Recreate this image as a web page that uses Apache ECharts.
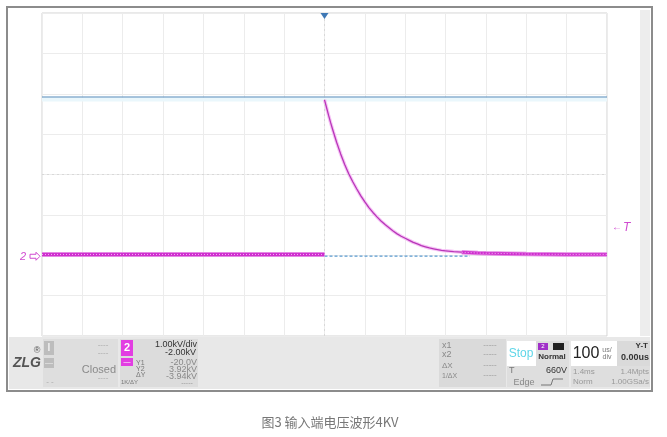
<!DOCTYPE html>
<html><head><meta charset="utf-8">
<script src="https://cdn.jsdelivr.net/npm/echarts@6/dist/echarts.min.js"></script>
<style>html,body{margin:0;padding:0;background:#fff}#c{width:667px;height:437px}</style>
</head><body><div id="c"></div><script>
// time axis in microseconds (100 us/div, 14 div), voltage in kV (1.00 kV/div, offset -2.00 kV)
const xMin = -700, xMax = 700, xStep = 100;
const yMin = -2, yMax = 6, yStep = 1;
// channel 2 before trigger
const preTime = [-700, 0];
const preVolt = [0.02, 0.02];
// channel 2 after trigger
const decayTime = [0,5,10,15,20,25,30,40,50,60,70,80,90,100,110,120,130,140,150,160,170,180,190,200,210,220,230,240,250,260,270,280,290,300,320,340,360,380,400,450,500,550,600,650,700];
const decayVolt = [3.85,3.66,3.47,3.29,3.12,2.96,2.80,2.51,2.25,2.02,1.82,1.64,1.47,1.32,1.18,1.06,0.95,0.85,0.76,0.68,0.60,0.53,0.47,0.42,0.37,0.32,0.28,0.24,0.21,0.18,0.16,0.14,0.12,0.11,0.09,0.075,0.065,0.055,0.05,0.04,0.03,0.025,0.02,0.02,0.02];
// time from which the trace looks like the thick baseline again
const tailStart = 340;
// cursors
const cursorY2 = 3.92;
const cursorY1 = -0.02;
const cursorY1Span = [0, 360];
const cursorY2Span = [-700, 700];
const triggerLevel = 0.66;
const centerTime = 0, centerVolt = 2;

const zip = (a, b) => a.map((v, i) => [v, b[i]]);
const decayData = zip(decayTime, decayVolt);
const tailData = decayData.filter(p => p[0] >= tailStart);
const MAG = '#cf2fcf';
const chart = echarts.init(document.getElementById('c'), null, {renderer: 'canvas'});

const F = 'Liberation Sans, Arial, sans-serif';
function txt(x, y, s, o) {
  o = o || {};
  return {type: 'text', x: x, y: y, z: 20, style: {text: s, fill: o.c || '#8a8a8a', font: o.f || ('9px ' + F), textAlign: o.a || 'left', textVerticalAlign: 'middle'}};
}
function box(x, y, w, h, fill, stroke) {
  return {type: 'rect', z: 10, shape: {x: x, y: y, width: w, height: h}, style: {fill: fill, stroke: stroke || null, lineWidth: 1}};
}

const graphics = [
  {type: 'rect', z: 1, shape: {x: 7, y: 7, width: 645, height: 384}, style: {fill: 'none', stroke: '#8c8c8c', lineWidth: 2}},
  box(640, 10, 10, 326, '#ededed'),
  box(9, 337, 641, 52, '#e8e8e8'),
  box(43, 339, 75, 48, '#dedede'),
  box(120, 339, 78, 48, '#dcdcdc'),
  box(439, 339, 67, 48, '#dadada'),
  box(507, 341, 29, 25, '#ffffff'),
  box(536, 341, 33, 25, '#dedede'),
  box(507, 366, 62, 21, '#dedede'),
  box(571, 341, 46, 25, '#ffffff'),
  box(617, 341, 33, 25, '#dadada'),
  box(571, 366, 79, 21, '#dedede'),
  box(44, 341, 10, 14, '#bdbdbd'),
  txt(49, 348, 'I', {c: '#f0f0f0', f: 'bold 10px ' + F, a: 'center'}),
  box(44, 358, 10, 10, '#bdbdbd'),
  txt(49, 363, '—', {c: '#f0f0f0', f: '8px ' + F, a: 'center'}),
  txt(103, 345, '----', {c: '#aaa', f: '8px ' + F, a: 'center'}),
  txt(103, 353, '----', {c: '#aaa', f: '8px ' + F, a: 'center'}),
  txt(116, 370, 'Closed', {c: '#8a8a8a', f: '11px ' + F, a: 'right'}),
  txt(103, 378, '----', {c: '#aaa', f: '8px ' + F, a: 'center'}),
  txt(50, 382, '- -', {c: '#aaa', f: '8px ' + F, a: 'center'}),
  box(121, 340, 12, 16, '#e23ee2'),
  txt(127, 348, '2', {c: '#ffffff', f: 'bold 11px ' + F, a: 'center'}),
  box(121, 358, 12, 8, '#e23ee2'),
  txt(127, 362, '—', {c: '#ffffff', f: '7px ' + F, a: 'center'}),
  txt(197, 345, '1.00kV/div', {c: '#333', f: '9px ' + F, a: 'right'}),
  txt(196, 353, '-2.00kV', {c: '#333', f: '9px ' + F, a: 'right'}),
  txt(136, 363, 'Y1', {c: '#777', f: '7px ' + F}),
  txt(136, 369, 'Y2', {c: '#777', f: '7px ' + F}),
  txt(136, 375, 'ΔY', {c: '#777', f: '7px ' + F}),
  txt(121, 382, '1K/ΔY', {c: '#777', f: '6px ' + F}),
  txt(197, 363, '-20.0V', {c: '#888', f: '9px ' + F, a: 'right'}),
  txt(197, 370, '3.92kV', {c: '#888', f: '9px ' + F, a: 'right'}),
  txt(197, 377, '-3.94kV', {c: '#888', f: '9px ' + F, a: 'right'}),
  txt(187, 383, '-----', {c: '#999', f: '7px ' + F, a: 'center'}),
  txt(13, 363, 'ZLG', {c: '#555', f: 'italic bold 14px ' + F}),
  txt(37, 351, '®', {c: '#555', f: '9px ' + F, a: 'center'}),
  txt(442, 346, 'x1', {c: '#888', f: '9px ' + F}),
  txt(442, 355, 'x2', {c: '#888', f: '9px ' + F}),
  txt(442, 366, 'ΔX', {c: '#888', f: '8px ' + F}),
  txt(442, 376, '1/ΔX', {c: '#888', f: '7px ' + F}),
  txt(490, 345, '-----', {c: '#999', f: '8px ' + F, a: 'center'}),
  txt(490, 354, '-----', {c: '#999', f: '8px ' + F, a: 'center'}),
  txt(490, 365, '-----', {c: '#999', f: '8px ' + F, a: 'center'}),
  txt(490, 375, '-----', {c: '#999', f: '8px ' + F, a: 'center'}),
  txt(521, 354, 'Stop', {c: '#5fd6e8', f: '12px ' + F, a: 'center'}),
  box(538, 343, 10, 7, '#a030c8'),
  txt(543, 346.5, '2', {c: '#fff', f: '6px ' + F, a: 'center'}),
  box(553, 343, 11, 7, '#222'),
  txt(552, 357, 'Normal', {c: '#333', f: 'bold 8px ' + F, a: 'center'}),
  txt(509, 371, 'T', {c: '#777', f: '9px ' + F}),
  txt(567, 371, '660V', {c: '#333', f: '9px ' + F, a: 'right'}),
  txt(524, 383, 'Edge', {c: '#888', f: '9px ' + F, a: 'center'}),
  {type: 'polyline', z: 20, shape: {points: [[541, 385], [551, 385], [553, 379], [563, 379]]}, style: {stroke: '#777', fill: 'none', lineWidth: 1}},
  txt(586, 354, '100', {c: '#222', f: '16px ' + F, a: 'center'}),
  txt(607, 350, 'us/', {c: '#777', f: '7px ' + F, a: 'center'}),
  txt(607, 357, 'div', {c: '#777', f: '7px ' + F, a: 'center'}),
  txt(648, 346, 'Y-T', {c: '#333', f: 'bold 8px ' + F, a: 'right'}),
  txt(649, 358, '0.00us', {c: '#333', f: 'bold 9px ' + F, a: 'right'}),
  txt(573, 372, '1.4ms', {c: '#999', f: '8px ' + F}),
  txt(649, 372, '1.4Mpts', {c: '#999', f: '8px ' + F, a: 'right'}),
  txt(573, 382, 'Norm', {c: '#999', f: '8px ' + F}),
  txt(649, 382, '1.00GSa/s', {c: '#999', f: '8px ' + F, a: 'right'}),
  {type: 'text', x: 330, y: 422, z: 20, style: {text: '图3 输入端电压波形4KV', fill: '#777', font: '13px "Noto Sans CJK SC", sans-serif', textAlign: 'center', textVerticalAlign: 'middle'}}
];

const option = {
  animation: false,
  backgroundColor: '#ffffff',
  grid: {left: 42, top: 13, width: 565, height: 323, show: true, borderColor: '#d2d2d2', borderWidth: 1, backgroundColor: 'transparent'},
  xAxis: {type: 'value', min: xMin, max: xMax, interval: xStep, axisLine: {show: false}, axisTick: {show: false}, axisLabel: {show: false},
    splitLine: {show: true, lineStyle: {color: '#ececec', width: 1}}},
  yAxis: {type: 'value', min: yMin, max: yMax, interval: yStep, axisLine: {show: false}, axisTick: {show: false}, axisLabel: {show: false},
    splitLine: {show: true, lineStyle: {color: '#ececec', width: 1}}},
  graphic: graphics,
  series: [
    {type: 'line', name: 'center', data: [], silent: true, markLine: {symbol: 'none', silent: true, label: {show: false},
      lineStyle: {color: '#d8d8d8', type: [2, 3], width: 1},
      data: [{xAxis: centerTime}, {yAxis: centerVolt}]}},
    {type: 'line', name: 'Y2glow', data: zip(cursorY2Span, [cursorY2 - 0.06, cursorY2 - 0.06]), showSymbol: false, lineStyle: {color: '#eaf7fc', width: 4}, z: 2},
    {type: 'line', name: 'Y2', data: zip(cursorY2Span, [cursorY2, cursorY2]), showSymbol: false, lineStyle: {color: '#5289ba', width: 1.2}, z: 3},
    {type: 'line', name: 'Y1', data: zip(cursorY1Span, [cursorY1, cursorY1]), showSymbol: false, lineStyle: {color: '#5a9ad0', width: 1.2, type: [3, 2]}, z: 3},
    {type: 'line', name: 'preGlow', data: zip(preTime, preVolt), showSymbol: false, lineStyle: {color: '#e48ae4', width: 5}, z: 4},
    {type: 'line', name: 'pre', data: zip(preTime, preVolt), showSymbol: false, lineStyle: {color: MAG, width: 3}, z: 5},
    {type: 'line', name: 'preDots', data: zip(preTime, preVolt), showSymbol: false, lineStyle: {color: '#f4b8f4', width: 1, type: [1, 2]}, z: 6},
    {type: 'line', name: 'decayGlow', data: decayData, showSymbol: false, lineStyle: {color: '#f6c4f6', width: 3.5}, z: 4},
    {type: 'line', name: 'decay', data: decayData, showSymbol: false, lineStyle: {color: '#b836b8', width: 1.3}, z: 5},
    {type: 'line', name: 'tailGlow', data: tailData, showSymbol: false, lineStyle: {color: '#e48ae4', width: 4.5}, z: 4},
    {type: 'line', name: 'tail', data: tailData, showSymbol: false, lineStyle: {color: MAG, width: 2.6}, z: 5},
    {type: 'line', name: 'tailDots', data: tailData, showSymbol: false, lineStyle: {color: '#f4b8f4', width: 1, type: [1, 2]}, z: 6}
  ]
};
chart.setOption(option);

const gnd = chart.convertToPixel({gridIndex: 0}, [xMin, 0]);
const trg = chart.convertToPixel({gridIndex: 0}, [xMax, triggerLevel]);
const topPt = chart.convertToPixel({gridIndex: 0}, [centerTime, yMax]);
chart.setOption({graphic: graphics.concat([
  {type: 'text', x: gnd[0] - 22, y: gnd[1] + 2, z: 20, style: {text: '2', fill: '#d04bd0', font: 'italic 11px ' + F, textVerticalAlign: 'middle'}},
  {type: 'polygon', z: 20, shape: {points: [[gnd[0] - 12, gnd[1] - 1], [gnd[0] - 6, gnd[1] - 1], [gnd[0] - 6, gnd[1] - 3], [gnd[0] - 2, gnd[1] + 1], [gnd[0] - 6, gnd[1] + 5], [gnd[0] - 6, gnd[1] + 3], [gnd[0] - 12, gnd[1] + 3]]}, style: {fill: 'none', stroke: '#d04bd0', lineWidth: 1}},
  {type: 'text', x: trg[0] + 5, y: trg[1] - 1, z: 20, style: {text: '←', fill: '#d04bd0', font: '10px ' + F, textVerticalAlign: 'middle'}},
  {type: 'text', x: trg[0] + 16, y: trg[1] - 1, z: 20, style: {text: 'T', fill: '#d04bd0', font: 'italic 12px ' + F, textVerticalAlign: 'middle'}},
  {type: 'polygon', z: 20, shape: {points: [[topPt[0] - 4, topPt[1]], [topPt[0] + 4, topPt[1]], [topPt[0], topPt[1] + 6]]}, style: {fill: '#3f78b5'}}
])});
</script></body></html>
